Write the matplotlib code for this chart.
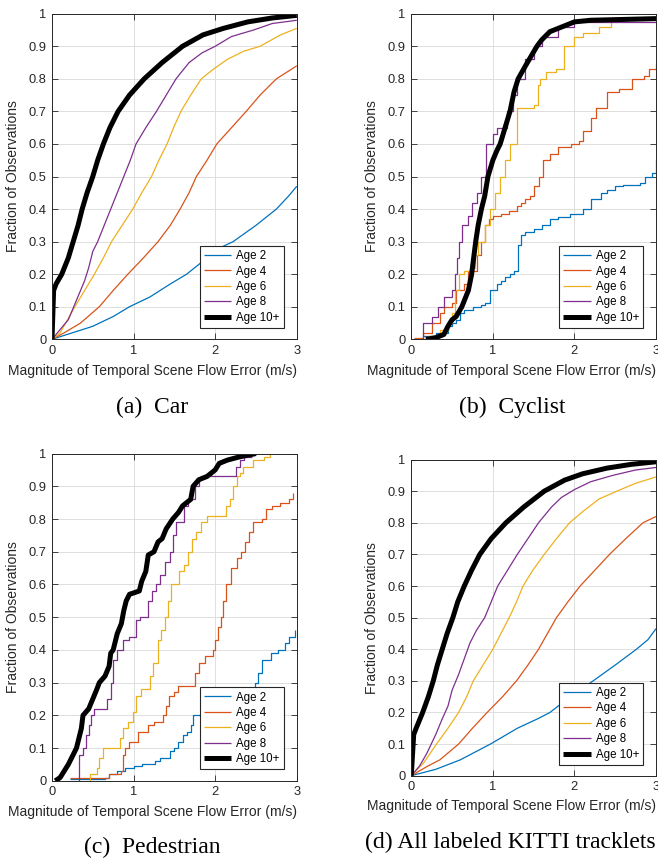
import matplotlib
matplotlib.use("Agg")
import matplotlib.pyplot as plt

# MATLAB default colours
c_age = ['#0072BD', '#D95319', '#EDB120', '#7E2F8E', 'black']
age_labels = ['Age 2', 'Age 4', 'Age 6', 'Age 8', 'Age 10+']

# ---- (a) Car : smooth cdfs ----
car_x2 = [0, 0.25, 0.5, 0.75, 0.95, 1.2, 1.45, 1.65, 1.85, 2.05, 2.22, 2.5, 2.75, 2.9, 3.0]
car_y2 = [0, 0.02, 0.04, 0.07, 0.1, 0.13, 0.17, 0.2, 0.24, 0.28, 0.3, 0.35, 0.4, 0.44, 0.47]
car_x4 = [0, 0.15, 0.35, 0.58, 0.75, 0.93, 1.12, 1.3, 1.45, 1.57, 1.68, 1.77, 1.9, 2.02, 2.2, 2.38, 2.55, 2.75, 3.0]
car_y4 = [0, 0.02, 0.05, 0.1, 0.15, 0.2, 0.25, 0.3, 0.35, 0.4, 0.45, 0.5, 0.55, 0.6, 0.65, 0.7, 0.75, 0.8, 0.84]
car_x6 = [0, 0.1, 0.28, 0.4, 0.52, 0.63, 0.73, 0.86, 0.99, 1.1, 1.22, 1.31, 1.41, 1.49, 1.58, 1.7, 1.83,
          1.98, 2.15, 2.35, 2.55, 2.8, 3.0]
car_y6 = [0, 0.02, 0.1, 0.15, 0.2, 0.25, 0.3, 0.35, 0.4, 0.45, 0.5, 0.55, 0.6, 0.65, 0.7, 0.75, 0.8,
          0.83, 0.86, 0.885, 0.9, 0.935, 0.955]
car_x8 = [0, 0.1, 0.2, 0.3, 0.4, 0.45, 0.5, 0.56, 0.64, 0.72, 0.8, 0.88, 0.96, 1.03, 1.15, 1.28, 1.4,
          1.52, 1.68, 1.84, 2.0, 2.2, 2.47, 2.7, 3.0]
car_y8 = [0, 0.03, 0.06, 0.12, 0.18, 0.22, 0.27, 0.3, 0.35, 0.4, 0.45, 0.5, 0.55, 0.6, 0.65, 0.7, 0.75,
          0.8, 0.85, 0.88, 0.9, 0.93, 0.95, 0.97, 0.98]
car_x10 = [0, 0.02, 0.05, 0.12, 0.2, 0.26, 0.32, 0.37, 0.43, 0.5, 0.56, 0.63, 0.71, 0.81, 0.95, 1.13,
           1.35, 1.6, 1.85, 2.1, 2.4, 2.7, 3.0]
car_y10 = [0, 0.15, 0.17, 0.2, 0.25, 0.3, 0.35, 0.4, 0.45, 0.5, 0.55, 0.6, 0.65, 0.7, 0.75, 0.8,
           0.85, 0.9, 0.935, 0.955, 0.975, 0.987, 0.995]

# ---- (b) Cyclist : staircase cdfs ----
cyc_x2 = [0.15, 0.3, 0.45, 0.5, 0.55, 0.6, 0.65, 0.76, 0.85, 0.9, 0.96, 1.05, 1.1, 1.15, 1.21, 1.26,
          1.31, 1.35, 1.39, 1.5, 1.6, 1.7, 1.8, 1.95, 2.11, 2.2, 2.32, 2.4, 2.5, 2.6, 2.8, 2.87, 2.95, 3.0]
cyc_y2 = [0.01, 0.02, 0.04, 0.05, 0.06, 0.08, 0.09, 0.1, 0.105, 0.11, 0.15, 0.17, 0.18, 0.19, 0.2, 0.21,
          0.29, 0.32, 0.33, 0.34, 0.35, 0.37, 0.375, 0.385, 0.4, 0.43, 0.45, 0.46, 0.47, 0.475, 0.48, 0.5, 0.51, 0.55]
cyc_x4 = [0.03, 0.15, 0.25, 0.35, 0.4, 0.5, 0.55, 0.65, 0.7, 0.8, 0.85, 0.9, 0.95, 1.0, 1.1, 1.2, 1.3,
          1.35, 1.4, 1.46, 1.5, 1.57, 1.62, 1.7, 1.8, 1.96, 2.05, 2.1, 2.2, 2.27, 2.4, 2.55, 2.7, 2.85, 2.92, 3.0]
cyc_y4 = [0.005, 0.02, 0.05, 0.08, 0.1, 0.11, 0.15, 0.17, 0.21, 0.26, 0.3, 0.35, 0.37, 0.38, 0.385, 0.395, 0.41,
          0.42, 0.43, 0.44, 0.47, 0.5, 0.55, 0.57, 0.59, 0.6, 0.61, 0.64, 0.68, 0.71, 0.76, 0.77, 0.8, 0.81, 0.83, 0.845]
cyc_x6 = [0.05, 0.2, 0.35, 0.45, 0.5, 0.54, 0.58, 0.65, 0.72, 0.78, 0.82, 0.9, 0.97, 1.03, 1.09, 1.15,
          1.21, 1.29, 1.5, 1.55, 1.58, 1.65, 1.78, 1.87, 2.0, 2.1, 2.3, 2.45]
cyc_y6 = [0, 0.01, 0.03, 0.05, 0.08, 0.15, 0.2, 0.21, 0.22, 0.26, 0.3, 0.35, 0.4, 0.45, 0.5, 0.55,
          0.6, 0.71, 0.72, 0.78, 0.8, 0.82, 0.83, 0.9, 0.93, 0.94, 0.96, 0.975]
cyc_x8 = [0.12, 0.15, 0.25, 0.33, 0.4, 0.5, 0.54, 0.56, 0.58, 0.62, 0.7, 0.74, 0.8, 0.86, 0.92, 1.0,
          1.05, 1.17, 1.25, 1.3, 1.4, 1.5, 1.6, 1.8, 2.0, 3.0]
cyc_y8 = [0, 0.05, 0.07, 0.1, 0.13, 0.15, 0.2, 0.25, 0.3, 0.35, 0.38, 0.42, 0.45, 0.5, 0.6, 0.63,
          0.65, 0.7, 0.75, 0.8, 0.86, 0.9, 0.93, 0.96, 0.975, 0.975]
cyc_x10 = [0.18, 0.3, 0.4, 0.45, 0.5, 0.55, 0.62, 0.7, 0.74, 0.79, 0.82, 0.86, 0.9, 0.94, 1.0, 1.05, 1.09,
           1.15, 1.21, 1.26, 1.31, 1.4, 1.47, 1.54, 1.6, 1.7, 1.85, 2.0, 2.2, 3.0]
cyc_y10 = [0, 0.005, 0.015, 0.04, 0.06, 0.07, 0.1, 0.15, 0.2, 0.3, 0.35, 0.4, 0.44, 0.5, 0.55, 0.58, 0.6,
           0.65, 0.7, 0.76, 0.8, 0.84, 0.87, 0.9, 0.92, 0.945, 0.96, 0.975, 0.98, 0.985]

# ---- (c) Pedestrian : staircase cdfs ----
ped_x2 = [0.22, 0.65, 0.7, 0.8, 0.9, 1.0, 1.1, 1.26, 1.32, 1.36, 1.45, 1.5, 1.55, 1.6, 1.65, 1.7, 1.73,
          1.85, 2.0, 2.2, 2.35, 2.45, 2.49, 2.52, 2.57, 2.69, 2.77, 2.85, 2.9, 2.98]
ped_y2 = [0.005, 0.01, 0.02, 0.03, 0.04, 0.045, 0.05, 0.06, 0.07, 0.07, 0.09, 0.1, 0.12, 0.14, 0.15, 0.17, 0.2,
          0.22, 0.24, 0.25, 0.26, 0.27, 0.3, 0.33, 0.37, 0.39, 0.4, 0.42, 0.44, 0.46]
ped_x4 = [0.22, 0.7, 0.85, 0.87, 0.9, 0.95, 1.05, 1.18, 1.25, 1.36, 1.4, 1.44, 1.5, 1.54, 1.75, 1.8, 1.87,
          1.97, 2.0, 2.03, 2.07, 2.1, 2.13, 2.2, 2.27, 2.32, 2.37, 2.42, 2.46, 2.58, 2.62, 2.7, 2.8, 2.9, 2.96]
ped_y4 = [0.01, 0.02, 0.03, 0.08, 0.1, 0.12, 0.15, 0.17, 0.18, 0.2, 0.23, 0.26, 0.27, 0.29, 0.33, 0.36, 0.38,
          0.4, 0.43, 0.47, 0.5, 0.55, 0.6, 0.65, 0.68, 0.7, 0.73, 0.76, 0.79, 0.8, 0.83, 0.84, 0.85, 0.86, 0.88]
ped_x6 = [0.45, 0.47, 0.55, 0.58, 0.62, 0.83, 0.87, 0.93, 0.99, 1.03, 1.09, 1.2, 1.24, 1.3, 1.34, 1.38,
          1.42, 1.46, 1.56, 1.62, 1.67, 1.72, 1.76, 1.83, 1.9, 2.13, 2.18, 2.22, 2.27, 2.3, 2.34, 2.46, 2.6, 2.67]
ped_y6 = [0, 0.02, 0.04, 0.07, 0.1, 0.13, 0.16, 0.18, 0.21, 0.26, 0.28, 0.32, 0.36, 0.43, 0.46, 0.5,
          0.55, 0.6, 0.64, 0.66, 0.7, 0.74, 0.76, 0.79, 0.81, 0.84, 0.86, 0.9, 0.93, 0.94, 0.96, 0.98, 0.99, 1.0]
ped_x8 = [0.32, 0.33, 0.38, 0.42, 0.45, 0.48, 0.52, 0.67, 0.72, 0.75, 0.8, 0.87, 0.95, 1.03, 1.08,
          1.18, 1.22, 1.28, 1.32, 1.38, 1.45, 1.48, 1.52, 1.62, 1.67, 1.75, 1.8, 1.83, 2.26, 2.3, 2.35, 2.45]
ped_y8 = [0, 0.08, 0.1, 0.14, 0.17, 0.2, 0.22, 0.25, 0.3, 0.37, 0.4, 0.43, 0.44, 0.49, 0.5,
          0.55, 0.58, 0.6, 0.63, 0.67, 0.7, 0.75, 0.79, 0.84, 0.86, 0.9, 0.92, 0.93, 0.96, 0.98, 0.99, 0.99]
ped_x10 = [0.04, 0.1, 0.15, 0.2, 0.26, 0.3, 0.33, 0.36, 0.38, 0.45, 0.5, 0.55, 0.58, 0.65, 0.7, 0.72,
           0.75, 0.8, 0.85, 0.88, 0.91, 0.95, 1.07, 1.1, 1.15, 1.18, 1.25, 1.3, 1.35, 1.4, 1.48, 1.55,
           1.6, 1.7, 1.73, 1.8, 1.9, 2.0, 2.05, 2.15, 2.3, 2.5]
ped_y10 = [0, 0.01, 0.03, 0.05, 0.08, 0.1, 0.13, 0.16, 0.2, 0.22, 0.25, 0.28, 0.3, 0.32, 0.35, 0.39,
           0.4, 0.45, 0.48, 0.52, 0.55, 0.57, 0.58, 0.61, 0.64, 0.69, 0.7, 0.73, 0.74, 0.77, 0.8, 0.82,
           0.84, 0.86, 0.9, 0.92, 0.93, 0.95, 0.97, 0.98, 0.99, 1.0]

# ---- (d) All labeled KITTI tracklets ----
all_x2 = [0, 0.3, 0.6, 0.97, 1.3, 1.55, 1.7, 1.95, 2.23, 2.5, 2.76, 2.9, 3.0]
all_y2 = [0, 0.02, 0.05, 0.1, 0.15, 0.18, 0.2, 0.25, 0.3, 0.35, 0.4, 0.43, 0.465]
all_x4 = [0, 0.2, 0.35, 0.58, 0.75, 0.93, 1.12, 1.29, 1.43, 1.56, 1.67, 1.78, 1.92, 2.07, 2.25, 2.43, 2.63, 2.84, 3.0]
all_y4 = [0, 0.03, 0.05, 0.1, 0.15, 0.2, 0.25, 0.3, 0.35, 0.4, 0.45, 0.5, 0.55, 0.6, 0.65, 0.7, 0.75, 0.8, 0.82]
all_x6 = [0, 0.15, 0.31, 0.45, 0.58, 0.68, 0.76, 0.88, 1.0, 1.1, 1.2, 1.29, 1.37, 1.49, 1.63, 1.78, 1.94,
          2.1, 2.3, 2.52, 2.75, 3.0]
all_y6 = [0, 0.04, 0.1, 0.15, 0.2, 0.25, 0.3, 0.35, 0.4, 0.45, 0.5, 0.55, 0.6, 0.65, 0.7, 0.75, 0.8,
          0.835, 0.875, 0.9, 0.925, 0.945]
all_x8 = [0, 0.1, 0.19, 0.3, 0.38, 0.45, 0.5, 0.58, 0.65, 0.72, 0.8, 0.9, 0.98, 1.06, 1.18, 1.3, 1.43,
          1.56, 1.72, 1.84, 2.0, 2.2, 2.47, 2.75, 3.0]
all_y8 = [0, 0.03, 0.07, 0.13, 0.18, 0.22, 0.27, 0.32, 0.37, 0.42, 0.46, 0.5, 0.55, 0.6, 0.65, 0.7, 0.75,
          0.8, 0.85, 0.88, 0.905, 0.93, 0.95, 0.967, 0.975]
all_x10 = [0, 0.03, 0.06, 0.14, 0.21, 0.27, 0.32, 0.38, 0.44, 0.51, 0.57, 0.65, 0.74, 0.84, 0.98, 1.16,
           1.38, 1.63, 1.88, 2.1, 2.4, 2.7, 3.0]
all_y10 = [0, 0.13, 0.15, 0.2, 0.25, 0.3, 0.35, 0.4, 0.45, 0.5, 0.55, 0.6, 0.65, 0.7, 0.75, 0.8,
           0.85, 0.9, 0.935, 0.955, 0.973, 0.985, 0.993]

panels = [
    ([car_x2, car_x4, car_x6, car_x8, car_x10], [car_y2, car_y4, car_y6, car_y8, car_y10], False),
    ([cyc_x2, cyc_x4, cyc_x6, cyc_x8, cyc_x10], [cyc_y2, cyc_y4, cyc_y6, cyc_y8, cyc_y10], True),
    ([ped_x2, ped_x4, ped_x6, ped_x8, ped_x10], [ped_y2, ped_y4, ped_y6, ped_y8, ped_y10], True),
    ([all_x2, all_x4, all_x6, all_x8, all_x10], [all_y2, all_y4, all_y6, all_y8, all_y10], False),
]
captions = ['(a)  Car', '(b)  Cyclist', '(c)  Pedestrian', '(d) All labeled KITTI tracklets']

plt.rcParams['font.family'] = ['Liberation Sans', 'DejaVu Sans']
txt_col = '#262626'

fig = plt.figure(figsize=(6.58, 8.59), dpi=100)
# axes rectangles [left, bottom, width, height] in figure fraction
rects = [[0.079, 0.605, 0.372, 0.379],
         [0.625, 0.605, 0.372, 0.379],
         [0.079, 0.091, 0.372, 0.381],
         [0.625, 0.097, 0.372, 0.368]]
cap_pos = [(0.231, 0.526), (0.778, 0.526), (0.231, 0.014), (0.776, 0.019)]

for k in range(4):
    xs, ys, stairs = panels[k]
    ax = fig.add_axes(rects[k])
    for i in range(5):
        if i == 4:
            ax.plot(xs[i], ys[i], color=c_age[i], lw=3.6, label=age_labels[i],
                    solid_capstyle='butt', solid_joinstyle='round')
        else:
            ds = 'steps-post' if stairs else 'default'
            ax.plot(xs[i], ys[i], color=c_age[i], lw=0.9, drawstyle=ds,
                    label=age_labels[i], solid_capstyle='butt')
    ax.set_xlim(0, 3)
    ax.set_ylim(0, 1)
    ax.set_xticks([0, 1, 2, 3])
    ax.set_xticklabels(['0', '1', '2', '3'])
    ax.set_yticks([i / 10 for i in range(11)])
    ax.set_yticklabels(['0'] + ['0.%d' % i for i in range(1, 10)] + ['1'])
    ax.grid(True, color='#dedede', lw=0.7)
    ax.set_axisbelow(True)
    ax.tick_params(direction='in', length=4, width=0.6, colors=txt_col,
                   labelsize=9.3, top=True, right=True, pad=4)
    for sp in ax.spines.values():
        sp.set_color(txt_col)
        sp.set_linewidth(0.7)
    ax.set_ylabel('Fraction of Observations', fontsize=10, color=txt_col, labelpad=6)
    xl = ax.set_xlabel('Magnitude of Temporal Scene Flow Error (m/s)', fontsize=10,
                       color=txt_col, labelpad=3)
    ax.xaxis.set_label_coords(1.0, -0.075)
    xl.set_ha('right')
    leg = ax.legend(loc='lower right', bbox_to_anchor=(0.948, 0.035), borderaxespad=0,
                    fontsize=8.3, fancybox=False, framealpha=1, edgecolor='#262626',
                    handlelength=2.4, handletextpad=0.45, labelspacing=0.3, borderpad=0.35)
    leg.get_frame().set_linewidth(0.8)
    fig.text(cap_pos[k][0], cap_pos[k][1], captions[k], ha='center', va='center',
             fontsize=17, family='Liberation Serif')

fig.savefig('out.png', dpi=100)
